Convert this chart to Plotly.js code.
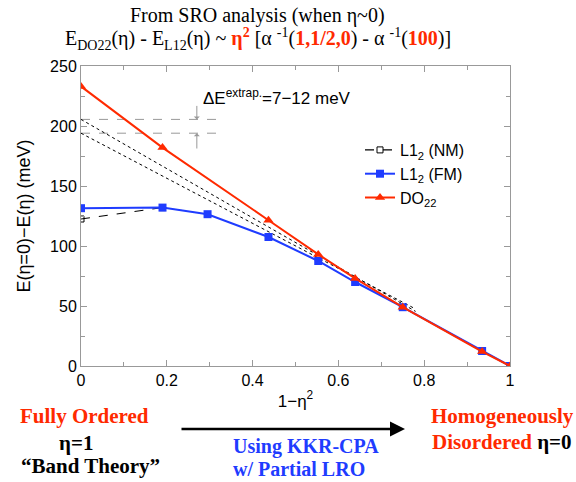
<!DOCTYPE html>
<html><head><meta charset="utf-8">
<script src="https://cdn.plot.ly/plotly-3.0.1.min.js"></script>
<style>body{margin:0;background:#fff}#c{width:576px;height:482px}</style>
</head><body><div id="c"></div>
<script>
// ---- data ----
const xDO22 = [0, 0.19, 0.437, 0.553, 0.639, 0.75, 0.935, 1];
const yDO22 = [233, 182, 121.5, 93, 73, 49, 12, 0];
const xFM = [0, 0.19, 0.295, 0.437, 0.553, 0.639, 0.75, 0.935, 1];
const yFM = [131.5, 132, 126.5, 107.5, 87.5, 70, 49, 12.5, 0];
const xNM = [0, 0.19];
const yNM = [122.5, 132];
const xExtrapUpper = [0, 0.78];
const yExtrapUpper = [205.5, 45.5];
const xExtrapLower = [0, 0.78];
const yExtrapLower = [194, 47.5];
const refLevels = [205.5, 194];
const refXEnd = 0.32;
const arrowX = 0.27;
const arrowFrom = [218, 180];

const RED = '#ff2a00', BLUE = '#1f3cff';
const L = 81, R = 510, T = 66, B = 366;
const px = x => (x - L) / (R - L);
const py = y => (B - y) / (B - T);

const traces = [
  {x: xExtrapUpper, y: yExtrapUpper, mode: 'lines', line: {color: '#000', width: 1, dash: 'dot'}, showlegend: false, hoverinfo: 'skip'},
  {x: xExtrapLower, y: yExtrapLower, mode: 'lines', line: {color: '#000', width: 1, dash: 'dot'}, showlegend: false, hoverinfo: 'skip'},
  {x: xNM, y: yNM, name: 'L1<sub>2</sub> (NM)', mode: 'lines+markers',
   line: {color: '#000', width: 1.2, dash: 'dash'},
   marker: {symbol: 'square-open', size: 6, color: '#000', line: {width: 1}}},
  {x: xFM, y: yFM, name: 'L1<sub>2</sub> (FM)', mode: 'lines+markers',
   line: {color: BLUE, width: 2},
   marker: {symbol: 'square', size: 8, color: BLUE}},
  {x: xDO22, y: yDO22, name: 'DO<sub>22</sub>', mode: 'lines+markers',
   line: {color: RED, width: 2},
   marker: {symbol: 'triangle-up', size: 9, color: RED}}
];

const shapes = refLevels.map(v => ({type: 'line', xref: 'x', yref: 'y', x0: 0, x1: refXEnd, y0: v, y1: v,
  line: {color: '#999', width: 1, dash: 'dash'}, layer: 'below'}));

const serif = 'Liberation Serif, Times New Roman, serif';
const sans = 'Liberation Sans, Arial, sans-serif';
const ann = (t, x, y, size, color, fam, extra) => Object.assign({text: t, xref: 'paper', yref: 'paper', x: px(x), y: py(y),
  xanchor: 'center', yanchor: 'middle', showarrow: false, font: {size: size, color: color || '#000', family: fam || serif}}, extra || {});
const r = s => '<span style="color:' + RED + '"><b>' + s + '</b></span>';

const annotations = [
  ann('From SRO analysis (when η~0)', 257, 15, 20),
  ann('E<sub>DO22</sub>(η) - E<sub>L12</sub>(η) ~ ' + r('η<sup>2</sup>') + ' [α <sup>-1</sup>(' + r('1,1/2,0') + ') - α <sup>-1</sup>(' + r('100') + ')]', 258, 39, 20),
  ann('ΔE<sup>extrap.</sup>=7−12 meV', 277, 97, 17, '#000', sans),
  {x: arrowX, y: refLevels[0], ax: arrowX, ay: arrowFrom[0], xref: 'x', yref: 'y', axref: 'x', ayref: 'y', text: '',
   showarrow: true, arrowhead: 1, arrowsize: 1, arrowwidth: 1, arrowcolor: '#999'},
  {x: arrowX, y: refLevels[1], ax: arrowX, ay: arrowFrom[1], xref: 'x', yref: 'y', axref: 'x', ayref: 'y', text: '',
   showarrow: true, arrowhead: 1, arrowsize: 1, arrowwidth: 1, arrowcolor: '#999'},
  ann('<b>Fully Ordered</b>', 84, 416, 21, RED),
  ann('<b>η=1</b>', 76, 443, 21),
  ann('<b>“Band Theory”</b>', 90, 466, 21),
  ann('<b>Using KKR-CPA</b>', 306, 446, 20, BLUE),
  ann('<b>w/ Partial LRO</b>', 299, 469, 20, BLUE),
  ann('<b>Homogeneously</b>', 502, 416, 21, RED),
  ann('<b>Disordered</b> <span style="color:#000"><b>η=0</b></span>', 502, 442, 21, RED),
  {x: px(405), y: py(429), ax: px(180), ay: py(429), xref: 'paper', yref: 'paper', axref: 'paper', ayref: 'paper',
   text: '', showarrow: true, arrowhead: 2, arrowsize: 1.2, arrowwidth: 2.5, arrowcolor: '#000'}
];

const axisCommon = {showline: true, linecolor: '#999', linewidth: 1, mirror: 'ticks', ticks: 'inside',
  ticklen: 6, tickcolor: '#999', showgrid: false, zeroline: false,
  tickfont: {size: 16, family: sans, color: '#000'}};

const layout = {
  width: 576, height: 482,
  margin: {l: L, r: 576 - R, t: T, b: 482 - B},
  paper_bgcolor: '#fff', plot_bgcolor: '#fff',
  showlegend: true,
  legend: {x: px(360), y: py(133), xanchor: 'left', yanchor: 'top', bgcolor: 'rgba(0,0,0,0)',
    font: {size: 16, family: sans, color: '#000'}, tracegroupgap: 0},
  xaxis: Object.assign({}, axisCommon, {range: [0, 1], dtick: 0.2,
    minor: {ticks: 'inside', dtick: 0.1, ticklen: 4, tickcolor: '#999'},
    title: {text: '1−η<sup>2</sup>', font: {size: 17, family: sans, color: '#000'}, standoff: 6}}),
  yaxis: Object.assign({}, axisCommon, {range: [0, 250], dtick: 50,
    minor: {ticks: 'inside', dtick: 25, ticklen: 4, tickcolor: '#999'},
    title: {text: 'E(η=0)−E(η) (meV)', font: {size: 18, family: sans, color: '#000'}, standoff: 14}}),
  shapes: shapes,
  annotations: annotations
};

Plotly.newPlot('c', traces, layout, {displayModeBar: false, staticPlot: true});
</script></body></html>
